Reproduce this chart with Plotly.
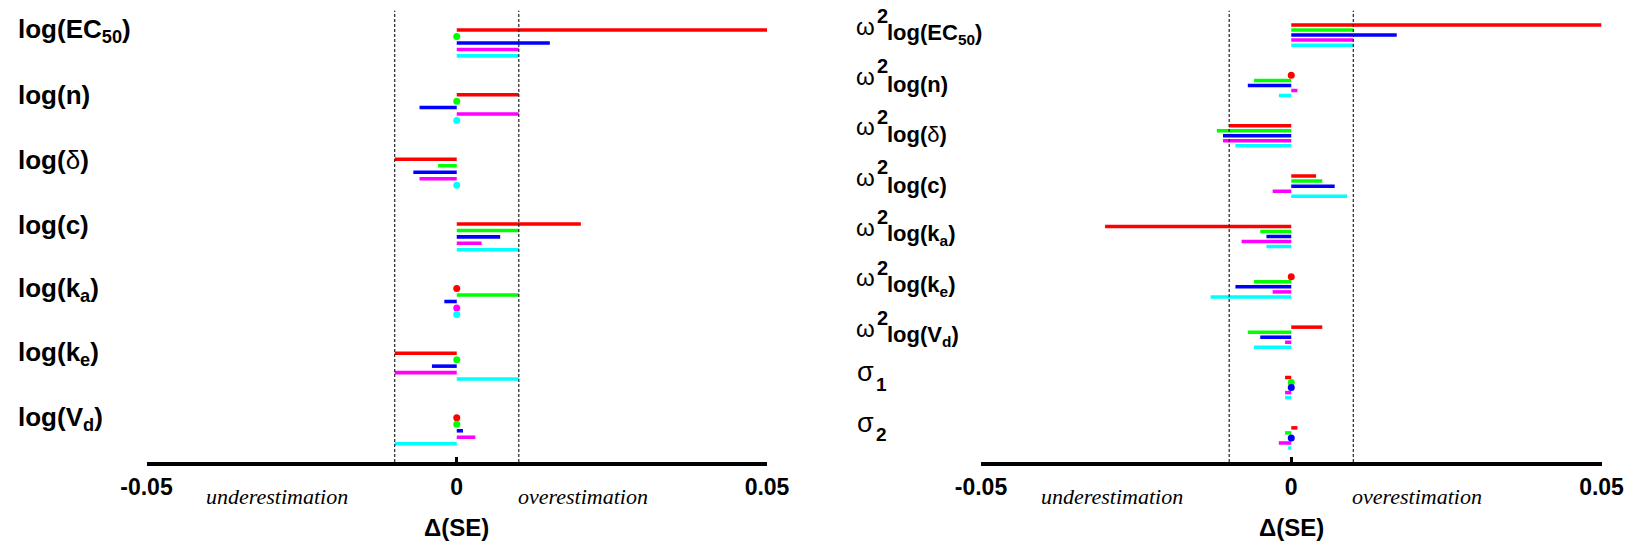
import numpy as np
import plotly.graph_objects as go

# ---------------- data ----------------
left_labels = ["log(EC<sub>50</sub>)", "log(n)", "log(</b>δ<b>)", "log(c)",
               "log(k<sub>a</sub>)", "log(k<sub>e</sub>)", "log(V<sub>d</sub>)"]
left_red     = [0.05, 0.01, -0.01, 0.02, 0.0, -0.01, 0.0]
left_green   = [0.0, 0.0, -0.003, 0.01, 0.01, 0.0, 0.0]
left_blue    = [0.015, -0.006, -0.007, 0.007, -0.002, -0.004, 0.001]
left_magenta = [0.01, 0.01, -0.006, 0.004, 0.0, -0.01, 0.003]
left_cyan    = [0.01, 0.0, 0.0, 0.01, 0.0, 0.01, -0.01]

right_labels = ["log(EC<sub>50</sub>)", "log(n)", "log(</b>δ<b>)", "log(c)",
                "log(k<sub>a</sub>)", "log(k<sub>e</sub>)", "log(V<sub>d</sub>)",
                "σ1", "σ2"]
right_red     = [0.05, 0.0, -0.01, 0.004, -0.030, 0.0, 0.005, -0.001, 0.001]
right_green   = [0.01, -0.006, -0.012, 0.005, -0.005, -0.006, -0.007, 0.0, -0.001]
right_blue    = [0.017, -0.007, -0.011, 0.007, -0.004, -0.009, -0.005, 0.0, 0.0]
right_magenta = [0.01, 0.001, -0.011, -0.003, -0.008, -0.003, -0.001, -0.001, -0.002]
right_cyan    = [0.01, -0.002, -0.009, 0.009, -0.004, -0.013, -0.006, -0.001, -0.0005]

tick_vals = [-0.05, 0, 0.05]
tick_text = ["<b>-0.05</b>", "<b>0</b>", "<b>0.05</b>"]
colors = ["#ff0000", "#00ff00", "#0000ff", "#ff00ff", "#00ffff"]

# ---------------- layout geometry ----------------
W, H = 1635, 546
y_top_px, y_bot_px = 10.7, 462.0
ydom = [1 - y_bot_px / H, 1 - y_top_px / H]
xdom1 = [146.5 / W, 767.0 / W]
xdom2 = [981.0 / W, 1601.5 / W]
FONT = "Liberation Sans, Arial, Helvetica, sans-serif"
SERIF = "Liberation Serif, Times New Roman, serif"

fig = go.Figure()


def add_panel(series, xa, ya, bar_w):
    n = len(series[0])
    for b, (vals, col) in enumerate(zip(series, colors)):
        vals = np.array(vals, dtype=float)
        slots = np.arange(n) * 10 + b
        fig.add_trace(go.Bar(x=vals, y=slots, base=0, orientation="h", width=bar_w,
                             marker=dict(color=col, line=dict(width=0)),
                             xaxis=xa, yaxis=ya, showlegend=False, hoverinfo="x"))
        zero = vals == 0
        fig.add_trace(go.Scatter(x=vals[zero], y=slots[zero], mode="markers",
                                 marker=dict(color=col, size=7, line=dict(width=0)),
                                 xaxis=xa, yaxis=ya, showlegend=False, hoverinfo="x"))


add_panel([left_red, left_green, left_blue, left_magenta, left_cyan], "x", "y", 0.55)
add_panel([right_red, right_green, right_blue, right_magenta, right_cyan], "x2", "y2", 0.70)

axis_common = dict(range=[-0.05, 0.05], showgrid=False, zeroline=False,
                   showline=True, linecolor="black", linewidth=3.5,
                   ticks="inside", ticklen=5, tickwidth=2.5, tickcolor="black",
                   tickvals=tick_vals, ticktext=tick_text,
                   tickfont=dict(family=FONT, size=23, color="black"),
                   ticklabelstandoff=2, fixedrange=True, automargin=False)

fig.update_layout(
    width=W, height=H, autosize=False,
    margin=dict(l=0, r=0, t=0, b=0, pad=0, autoexpand=False),
    paper_bgcolor="white", plot_bgcolor="white",
    barmode="overlay", showlegend=False,
    xaxis=dict(domain=xdom1, anchor="y", **axis_common),
    xaxis2=dict(domain=xdom2, anchor="y2", **axis_common),
    yaxis=dict(domain=ydom, range=[66.83, -2.99], visible=False, anchor="x"),
    yaxis2=dict(domain=ydom, range=[86.78, -2.84], visible=False, anchor="x2"),
)

shapes = []
for xr in ("x", "x2"):
    for xv in (-0.01, 0.01):
        shapes.append(dict(type="line", xref=xr, yref="paper", x0=xv, x1=xv,
                           y0=ydom[0], y1=ydom[1],
                           line=dict(color="#222222", width=1.2, dash="3px,2px"),
                           layer="above"))
fig.update_layout(shapes=shapes)

ann = []
# left labels
for g, lab in enumerate(left_labels):
    ann.append(dict(xref="paper", yref="y", x=16 / W, y=g * 10 + 0.1,
                    text="<b>" + lab + "</b>", showarrow=False,
                    xanchor="left", yanchor="middle",
                    font=dict(family=FONT, size=26, color="black")))
# right labels
for g, lab in enumerate(right_labels):
    s = g * 10
    if lab.startswith("σ"):
        ann.append(dict(xref="paper", yref="y2", x=855 / W, y=s - 1.0, text="σ",
                        showarrow=False, xanchor="left", yanchor="middle",
                        font=dict(family=FONT, size=27, color="black")))
        ann.append(dict(xref="paper", yref="y2", x=874 / W, y=s + 1.3,
                        text="<b>" + lab[1:] + "</b>",
                        showarrow=False, xanchor="left", yanchor="middle",
                        font=dict(family=FONT, size=19, color="black")))
    else:
        ann.append(dict(xref="paper", yref="y2", x=854 / W, y=s + 0.2, text="ω",
                        showarrow=False, xanchor="left", yanchor="middle",
                        font=dict(family=FONT, size=24, color="black")))
        ann.append(dict(xref="paper", yref="y2", x=875 / W, y=s - 1.8, text="<b>2</b>",
                        showarrow=False, xanchor="left", yanchor="middle",
                        font=dict(family=FONT, size=20, color="black")))
        ann.append(dict(xref="paper", yref="y2", x=885 / W, y=s + 1.8,
                        text="<b>" + lab + "</b>",
                        showarrow=False, xanchor="left", yanchor="middle",
                        font=dict(family=FONT, size=22, color="black")))
# under / over estimation and axis titles
for xr in ("x", "x2"):
    ann.append(dict(xref=xr, yref="paper", x=-0.0289, y=1 - 496 / H,
                    text="<i>underestimation</i>", showarrow=False,
                    xanchor="center", yanchor="middle",
                    font=dict(family=SERIF, size=22, color="black")))
    ann.append(dict(xref=xr, yref="paper", x=0.0203, y=1 - 496 / H,
                    text="<i>overestimation</i>", showarrow=False,
                    xanchor="center", yanchor="middle",
                    font=dict(family=SERIF, size=22, color="black")))
    ann.append(dict(xref=xr, yref="paper", x=0, y=1 - 527 / H,
                    text="<b>Δ(SE)</b>", showarrow=False,
                    xanchor="center", yanchor="middle",
                    font=dict(family=FONT, size=24, color="black")))
fig.update_layout(annotations=ann)

fig.write_html(
    "out.html",
    config={"displayModeBar": False},
    post_script="document.body.style.margin='0';document.body.style.padding='0';"
                "document.body.style.overflow='hidden';",
)
